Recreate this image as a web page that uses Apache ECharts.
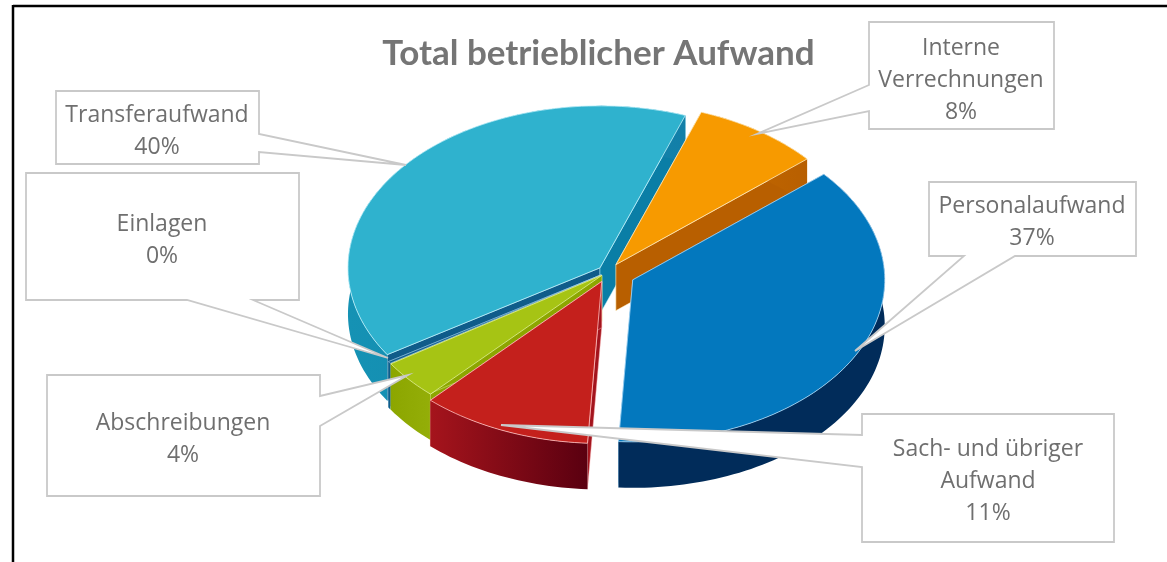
<!DOCTYPE html>
<html>
<head>
<meta charset="utf-8">
<style>html,body{margin:0;padding:0;background:#fff}#c{width:1167px;height:562px}</style>
<script src="https://cdn.jsdelivr.net/npm/echarts@6/dist/echarts.min.js"></script>
</head>
<body>
<div id="c"></div>
<script>
// Data (clockwise from the first slice)
var titleText = 'Total betrieblicher Aufwand';
var categories = ['Interne Verrechnungen', 'Personalaufwand', 'Sach- und übriger Aufwand', 'Abschreibungen', 'Einlagen', 'Transferaufwand'];
var labelNames = ['Interne\nVerrechnungen', 'Personalaufwand', 'Sach- und übriger\nAufwand', 'Abschreibungen', 'Einlagen', 'Transferaufwand'];
var values = [8.2, 37.2, 11, 3.9, 0.2, 39.5];

// Styling
var topColors = ['#F79A00', '#0378BE', '#C4201C', '#A6C414', '#0F5C8A', '#2FB2CE'];
var wallFrom  = ['#C46A00', '#012C5A', '#A5141C', '#8CA600', '#0F5C8A', '#1592B4'];
var wallTo    = ['#B85F00', '#012C5A', '#5A0010', '#94AE08', '#0F5C8A', '#127FA8'];
var cutStart  = ['#C06600', '#012C5A', '#A3141D', '#8CA600', '#0F5C8A', '#0F5C8A'];
var cutEnd    = ['#B85F00', '#0270B0', '#A3141D', '#8CA600', '#0F5C8A', '#0A7EA6'];
var edgeColors = ['rgba(255,235,190,.8)', 'rgba(170,215,245,.8)', 'rgba(255,190,190,.8)', 'rgba(225,240,150,.8)', 'rgba(170,215,245,.6)', 'rgba(190,240,250,.8)'];
var explode = [14, 27.6, 16, 8, 8, 10.3];
var paintOrder = [5, 4, 0, 1, 3, 2];

var geom = { cx: 608, cy: 272, rx: 252, ry: 162, depth: 46, startAngle: 70.2 };

// Callouts, in the order of categories
var callouts = [
  { cx: 961, cy: 78, pts: [[869,22],[1054,22],[1054,129],[869,129],[869,111],[757,134],[869,85]] },
  { cx: 1032, cy: 220, pts: [[929,182],[1136,182],[1136,256],[1015,256],[855,351],[964,256],[929,256]] },
  { cx: 988, cy: 479, pts: [[862,414],[1114,414],[1114,542],[862,542],[862,467],[501,425],[862,435]] },
  { cx: 183, cy: 437, pts: [[47,375],[320,375],[320,396],[408,375],[320,426],[320,496],[47,496]] },
  { cx: 162, cy: 238, pts: [[26,173],[299,173],[299,300],[253,300],[388,358],[187,300],[26,300]] },
  { cx: 157, cy: 129, pts: [[56,91],[259,91],[259,134],[406,165],[259,152],[259,164],[56,164]] }
];

var total = values.reduce(function (a, b) { return a + b; }, 0);
var bounds = [];
values.reduce(function (a, v) {
  var b = a - v / total * 360;
  bounds.push([a, b]);
  return b;
}, geom.startAngle);

function rad(d) { return d * Math.PI / 180; }

function sliceShapes(i) {
  var a0 = bounds[i][0], a1 = bounds[i][1];
  var mid = rad((a0 + a1) / 2);
  var ax = geom.cx + explode[i] * Math.cos(mid);
  var ay = geom.cy - explode[i] * Math.sin(mid) * geom.ry / geom.rx;
  function P(t, d) {
    return [ax + geom.rx * Math.cos(rad(t)), ay - geom.ry * Math.sin(rad(t)) + (d || 0)];
  }
  var arc = [], low = [];
  var n = Math.max(6, Math.ceil((a0 - a1) / 1.5));
  for (var k = 0; k <= n; k++) {
    var t = a0 + (a1 - a0) * k / n;
    arc.push(P(t));
    low.unshift(P(t, geom.depth));
  }
  var apex = [ax, ay], apexLow = [ax, ay + geom.depth];
  var base = paintOrder.indexOf(i) * 10;
  var line = edgeColors[i];
  return [
    { type: 'polygon', z2: base + 1, shape: { points: [apex, P(a0), P(a0, geom.depth), apexLow] },
      style: { fill: cutStart[i], stroke: line, lineWidth: 0.6 } },
    { type: 'polygon', z2: base + 2, shape: { points: [apex, P(a1), P(a1, geom.depth), apexLow] },
      style: { fill: cutEnd[i], stroke: line, lineWidth: 0.6 } },
    { type: 'polygon', z2: base + 3, shape: { points: arc.concat(low) },
      style: { fill: { type: 'linear', x: 0, y: 0, x2: 1, y2: 0,
        colorStops: [{ offset: 0, color: wallFrom[i] }, { offset: 1, color: wallTo[i] }] } } },
    { type: 'polygon', z2: base + 4, shape: { points: [apex].concat(arc) },
      style: { fill: topColors[i], stroke: line, lineWidth: 1 } }
  ];
}

var calloutElements = [];
callouts.forEach(function (c, i) {
  calloutElements.push({
    type: 'polygon', z: 10, shape: { points: c.pts },
    style: { fill: '#fff', stroke: '#C9C9C9', lineWidth: 1.8 }
  });
  calloutElements.push({
    type: 'text', z: 11, x: c.cx, y: c.cy + 2,
    style: {
      text: labelNames[i] + '\n' + Math.round(values[i]) + '%',
      fill: '#6F6F6F', font: '23px "Open Sans"', lineHeight: 32,
      align: 'center', verticalAlign: 'middle'
    }
  });
});

var frame = [
  { type: 'line', z: 12, shape: { x1: 13, y1: 6, x2: 1167, y2: 6 }, style: { stroke: '#000', lineWidth: 2.5 } },
  { type: 'line', z: 12, shape: { x1: 13, y1: 5, x2: 13, y2: 562 }, style: { stroke: '#000', lineWidth: 2.5 } }
];

var chart = echarts.init(document.getElementById('c'), null, { renderer: 'canvas' });
chart.setOption({
  animation: false,
  backgroundColor: '#fff',
  title: {
    text: titleText, left: 593.5, top: 31, textAlign: 'center',
    textStyle: { color: '#757575', fontFamily: 'Lato', fontWeight: 'bold', fontSize: 35 }
  },
  series: [{
    type: 'custom',
    coordinateSystem: 'none',
    data: categories.map(function (name, i) { return { name: name, value: values[i] }; }),
    renderItem: function (params) {
      return { type: 'group', children: sliceShapes(params.dataIndex) };
    }
  }],
  graphic: { elements: frame.concat(calloutElements) }
});
</script>
</body>
</html>
